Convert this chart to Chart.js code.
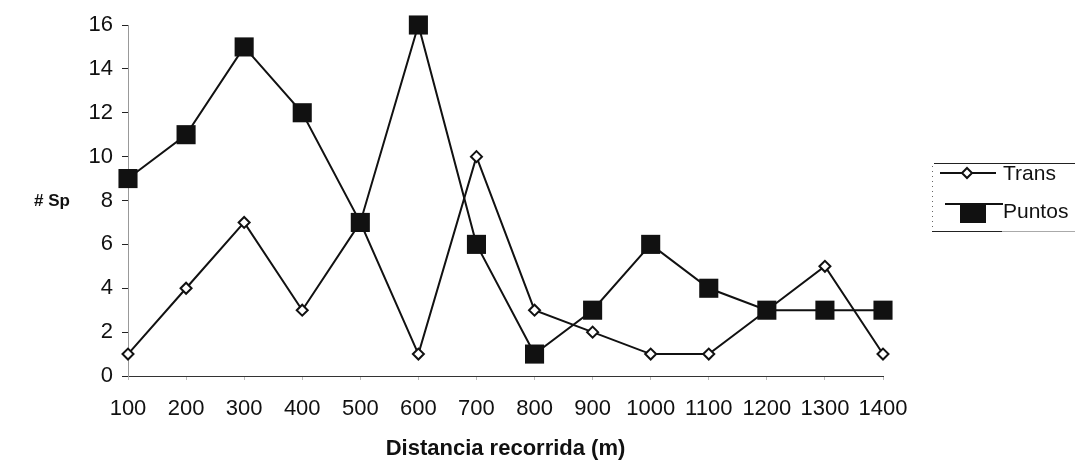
<!DOCTYPE html>
<html>
<head>
<meta charset="utf-8">
<title>Distancia recorrida</title>
<script src="https://cdn.jsdelivr.net/npm/chart.js@4.4.1/dist/chart.umd.min.js"></script>
<style>
    html, body { margin: 0; padding: 0; background: #fff; }
    #wrap { width: 1080px; height: 460px; position: relative; }
</style>
</head>
<body>
<div id="wrap"><canvas id="spChart"></canvas></div>
<script>
// Distance walked (m) and species counts per method
const distancias = ['100', '200', '300', '400', '500', '600', '700', '800', '900', '1000', '1100', '1200', '1300', '1400'];
const trans = [1, 4, 7, 3, 7, 1, 10, 3, 2, 1, 1, 3, 5, 1];
const puntos = [9, 11, 15, 12, 7, 16, 6, 1, 3, 6, 4, 3, 3, 3];
const yTicks = [0, 2, 4, 6, 8, 10, 12, 14, 16];

const FONT = "'Liberation Sans', Arial, sans-serif";

// Horizontal y title and a boxed legend on the right (line + marker)
const extrasPlugin = {
    id: 'extras',
    afterDraw(chart) {
        const ctx = chart.ctx;
        ctx.save();
        ctx.fillStyle = '#111';
        ctx.font = 'bold 17px ' + FONT;
        ctx.textAlign = 'center';
        ctx.textBaseline = 'middle';
        ctx.fillText('# Sp', 52, 201);

        // legend frame
        ctx.strokeStyle = '#222';
        ctx.lineWidth = 1;
        ctx.beginPath();
        ctx.moveTo(934, 163.5);
        ctx.lineTo(1075, 163.5);
        ctx.moveTo(932, 231.5);
        ctx.lineTo(1002, 231.5);
        ctx.stroke();
        ctx.strokeStyle = '#aaa';
        ctx.beginPath();
        ctx.moveTo(1002, 231.5);
        ctx.lineTo(1075, 231.5);
        ctx.stroke();
        ctx.setLineDash([1, 4]);
        ctx.strokeStyle = '#666';
        ctx.beginPath();
        ctx.moveTo(932.5, 166);
        ctx.lineTo(932.5, 230);
        ctx.stroke();
        ctx.setLineDash([]);

        const ds = chart.data.datasets;
        ctx.font = '21px ' + FONT;
        ctx.textAlign = 'left';

        // Trans
        ctx.strokeStyle = '#111';
        ctx.lineWidth = 2;
        ctx.beginPath();
        ctx.moveTo(940, 173);
        ctx.lineTo(996, 173);
        ctx.stroke();
        ctx.fillStyle = '#fff';
        ctx.beginPath();
        ctx.moveTo(967, 168);
        ctx.lineTo(972, 173);
        ctx.lineTo(967, 178);
        ctx.lineTo(962, 173);
        ctx.closePath();
        ctx.fill();
        ctx.stroke();
        ctx.fillStyle = '#111';
        ctx.fillText(ds[0].label, 1003, 174);

        // Puntos
        ctx.beginPath();
        ctx.moveTo(945, 204);
        ctx.lineTo(1003, 204);
        ctx.stroke();
        ctx.fillRect(960, 203, 26, 20);
        ctx.fillText(ds[1].label, 1003, 212);
        ctx.restore();
    }
};

new Chart(document.getElementById('spChart'), {
    type: 'line',
    data: {
        labels: distancias,
        datasets: [
            {
                label: 'Trans',
                data: trans,
                order: 1,
                clip: false,
                borderColor: '#111',
                borderWidth: 2,
                pointStyle: 'rectRot',
                pointRadius: 5.5,
                pointBorderWidth: 2,
                pointBackgroundColor: '#fff',
                pointBorderColor: '#111',
                tension: 0
            },
            {
                label: 'Puntos',
                data: puntos,
                order: 0,
                clip: false,
                borderColor: '#111',
                borderWidth: 2,
                pointStyle: 'rect',
                pointRadius: 13.5,
                pointBorderWidth: 0,
                pointBackgroundColor: '#111',
                pointBorderColor: '#111',
                tension: 0
            }
        ]
    },
    options: {
        responsive: true,
        maintainAspectRatio: false,
        animation: false,
        layout: {
            padding: { left: 0, right: 197, top: 25, bottom: 0 }
        },
        plugins: {
            legend: { display: false },
            tooltip: { enabled: false }
        },
        scales: {
            x: {
                offset: false,
                afterFit: function (scale) { scale.height = 84; },
                grid: {
                    drawOnChartArea: false,
                    tickLength: 4,
                    tickColor: '#bbb'
                },
                border: { color: '#333', width: 1 },
                ticks: {
                    color: '#111',
                    padding: 16,
                    maxRotation: 0,
                    autoSkip: false,
                    font: { family: FONT, size: 22 }
                },
                title: {
                    display: true,
                    text: 'Distancia recorrida (m)',
                    color: '#111',
                    padding: { top: 0, bottom: 0 },
                    font: { family: FONT, size: 22, weight: 'bold', lineHeight: 1 }
                }
            },
            y: {
                min: 0,
                max: 16,
                afterFit: function (scale) { scale.width = 128; },
                afterBuildTicks: function (scale) {
                    scale.ticks = yTicks.map(v => ({ value: v }));
                },
                grid: {
                    drawOnChartArea: false,
                    tickLength: 6,
                    tickColor: '#222'
                },
                border: { color: '#999', dash: [1, 4] },
                ticks: {
                    color: '#111',
                    padding: 9,
                    font: { family: FONT, size: 22 }
                }
            }
        }
    },
    plugins: [extrasPlugin]
});
</script>
</body>
</html>
